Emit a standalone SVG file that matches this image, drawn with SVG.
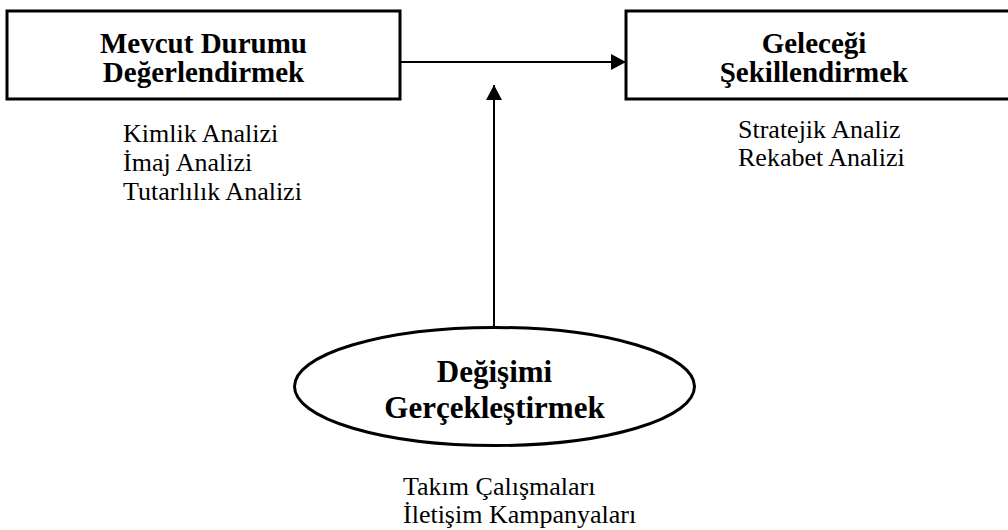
<svg xmlns="http://www.w3.org/2000/svg" width="1008" height="530" viewBox="0 0 1008 530">
  <style>
    .box { fill: #fff; stroke: #000; stroke-width: 3; }
    .head { font-family: "Liberation Serif", "Times New Roman", serif; font-weight: bold; font-size: 29px; fill: #000; text-anchor: middle; }
    .head2 { font-family: "Liberation Serif", "Times New Roman", serif; font-weight: bold; font-size: 31px; fill: #000; text-anchor: middle; }
    .list { font-family: "Liberation Serif", "Times New Roman", serif; font-size: 26px; fill: #000; }
    .link { stroke: #000; stroke-width: 2; fill: none; }
  </style>
  <defs>
    <marker id="arrow" markerUnits="userSpaceOnUse" markerWidth="16" markerHeight="16" refX="15" refY="8" orient="auto">
      <path d="M0,0 L15,8 L0,16 Z" fill="#000"/>
    </marker>
  </defs>

  <!-- connectors -->
  <g id="connectors">
    <line class="link" x1="400" y1="62" x2="626" y2="62" marker-end="url(#arrow)"/>
    <line class="link" x1="494" y1="328" x2="494" y2="85" marker-end="url(#arrow)"/>
  </g>

  <!-- current state assessment -->
  <g id="node-mevcut">
    <rect class="box" x="7" y="11" width="393" height="88"/>
    <text class="head" x="203.5" y="53">Mevcut Durumu</text>
    <text class="head" x="203.5" y="82">Değerlendirmek</text>
    <text class="list" x="123" y="142">Kimlik Analizi</text>
    <text class="list" x="123" y="171">İmaj Analizi</text>
    <text class="list" x="123" y="200">Tutarlılık Analizi</text>
  </g>

  <!-- shaping the future -->
  <g id="node-gelecek">
    <rect class="box" x="626" y="11" width="390" height="88"/>
    <text class="head" x="814" y="53">Geleceği</text>
    <text class="head" x="814" y="82">Şekillendirmek</text>
    <text class="list" x="738" y="138">Stratejik Analiz</text>
    <text class="list" x="738" y="166">Rekabet Analizi</text>
  </g>

  <!-- realising change -->
  <g id="node-degisim">
    <ellipse class="box" cx="494.5" cy="386.5" rx="200" ry="59"/>
    <text class="head2" x="494.5" y="382">Değişimi</text>
    <text class="head2" x="494.5" y="418">Gerçekleştirmek</text>
    <text class="list" x="403" y="495">Takım Çalışmaları</text>
    <text class="list" x="403" y="523">İletişim Kampanyaları</text>
  </g>
</svg>
